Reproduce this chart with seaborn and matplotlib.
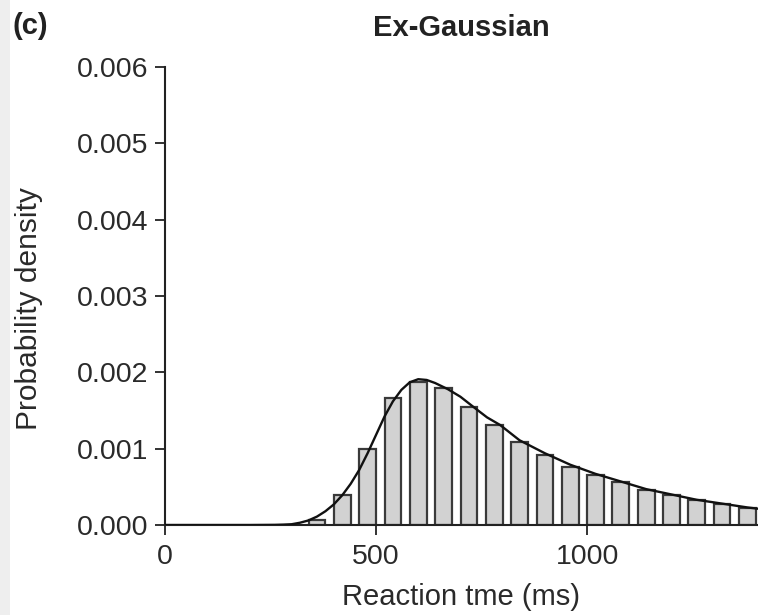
import matplotlib
matplotlib.use("Agg")
import matplotlib.pyplot as plt
import seaborn as sns
import pandas as pd
from matplotlib.patches import Rectangle

# ---- data ----
bin_centers = [360, 420, 480, 540, 600, 660, 720, 780, 840, 900,
               960, 1020, 1080, 1140, 1200, 1260, 1320, 1380]
bin_density = [0.00007, 0.00039, 0.00100, 0.00166, 0.00187, 0.00179,
               0.00154, 0.00131, 0.00109, 0.00092, 0.00076, 0.00065,
               0.00056, 0.00046, 0.00039, 0.00033, 0.00027, 0.00022]

curve_x = [0, 100, 200, 260, 280, 300, 320, 340, 360, 380, 400, 420, 440,
           460, 480, 500, 520, 540, 560, 580, 600, 620, 640, 670, 700, 730,
           763, 794, 840, 900, 960, 1020, 1080, 1140, 1200, 1260, 1320,
           1380, 1410]
curve_y = [0.0, 0.0, 0.0, 0.000002, 0.000005, 0.00001, 0.00003, 0.00006,
           0.00011, 0.00018, 0.00027, 0.00039, 0.00054, 0.00072, 0.00094,
           0.00118, 0.00142, 0.00162, 0.00177, 0.00187, 0.00191, 0.00190,
           0.00186, 0.00178, 0.00168, 0.00155, 0.00141, 0.00131, 0.00111,
           0.00094, 0.00079, 0.00067, 0.00057, 0.00047, 0.00040, 0.00033,
           0.00028, 0.00023, 0.00021]

y_ticks = [0.000, 0.001, 0.002, 0.003, 0.004, 0.005, 0.006]
x_ticks = [0, 500, 1000]

title = "Ex-Gaussian"
panel = "(c)"
xlabel = "Reaction tme (ms)"
ylabel = "Probability density"

hist_df = pd.DataFrame({"rt": bin_centers, "density": bin_density})
curve_df = pd.DataFrame({"rt": curve_x, "density": curve_y})

sns.set_style("ticks")
plt.rcParams["font.family"] = ["Liberation Sans", "DejaVu Sans"]

fig = plt.figure(figsize=(7.58, 6.15), dpi=100)
fig.patches.append(Rectangle((0, 0), 0.013, 1, transform=fig.transFigure,
                             facecolor="#eeeeee", edgecolor="none", zorder=0))
ax = fig.add_axes([165 / 758, 90 / 615, 1 - 165 / 758, (525 - 67) / 615])

sns.barplot(data=hist_df, x="rt", y="density", native_scale=True, width=0.66,
            color="#d2d2d2", saturation=1, edgecolor="#3a3a3a", linewidth=1.6,
            ax=ax, zorder=2)
sns.lineplot(data=curve_df, x="rt", y="density", color="#111111",
             linewidth=1.7, ax=ax, zorder=3)

ax.set_xlim(0, 1405)
ax.set_ylim(0, 0.006)
ax.set_xticks(x_ticks)
ax.set_xticklabels([str(v) for v in x_ticks])
ax.set_yticks(y_ticks)
ax.set_yticklabels([f"{v:.3f}" for v in y_ticks])
ax.tick_params(axis="both", labelsize=20.5, length=7, width=1.3,
               color="#222222", labelcolor="#2a2a2a")
ax.tick_params(axis="y", pad=5)
ax.tick_params(axis="x", pad=7)
for s in ["top", "right"]:
    ax.spines[s].set_visible(False)
for s in ["left", "bottom"]:
    ax.spines[s].set_linewidth(1.5)
    ax.spines[s].set_color("#222222")

ax.set_xlabel(xlabel, fontsize=21, color="#2a2a2a")
ax.set_ylabel(ylabel, fontsize=21.5, color="#2a2a2a")
ax.xaxis.set_label_coords(0.5, -0.127)
ax.yaxis.set_label_coords(-0.205, 0.472)

fig.text(0.608, 0.955, title, fontsize=21, fontweight="bold",
         ha="center", va="center", color="#222222")
fig.text(0.016, 0.957, panel, fontsize=21, fontweight="bold",
         ha="left", va="center", color="#222222")

fig.savefig("out.png", dpi=100)
